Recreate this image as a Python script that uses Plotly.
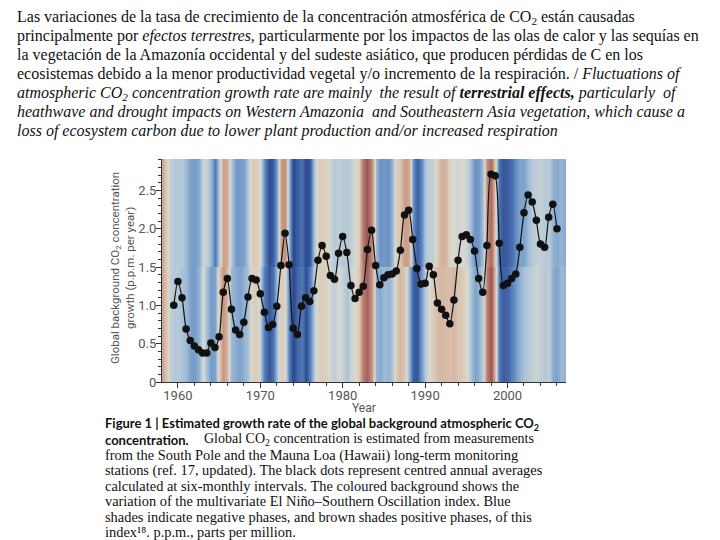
import plotly.graph_objects as go

# ---------------- data ----------------
co2_years = [1959.5 + 0.5 * i for i in range(94)]
co2_growth = [
    1.00, 1.31, 1.10, 0.69, 0.54, 0.47, 0.42, 0.38, 0.38, 0.51,
    0.45, 0.59, 1.17, 1.35, 0.95, 0.68, 0.62, 0.78, 1.11, 1.35,
    1.33, 1.15, 0.91, 0.71, 0.75, 0.99, 1.52, 1.94, 1.53, 0.70,
    0.62, 0.99, 1.10, 1.05, 1.19, 1.59, 1.78, 1.64, 1.39, 1.34,
    1.68,
    1.90, 1.69, 1.26, 1.09, 1.17, 1.25, 1.73, 1.98, 1.52, 1.27,
    1.36, 1.40, 1.41, 1.45, 1.72, 2.18, 2.24, 1.86, 1.48, 1.28,
    1.29, 1.51, 1.40, 1.03, 0.95, 0.87, 0.76, 1.07, 1.59, 1.90,
    1.92, 1.86, 1.71, 1.35, 1.17, 1.78, 2.71, 2.69, 1.81, 1.26,
    1.29, 1.35, 1.41,
    1.76, 2.21, 2.44, 2.35, 2.11, 1.80, 1.76, 2.15, 2.32, 2.00,
]

mei_years = [1957.5 + 0.5 * i for i in range(101)]
# multivariate ENSO index shading, lower part of the figure (0-1.5)
mei_lower = [
    1.2, 1.0, 0.4, -0.2, -0.3, -0.3, -0.4, -0.5, -0.8, -0.9,
    -0.6, 0.0, -0.5, -0.9, -0.8, 0.3, 1.1, 0.6, -0.5, -0.7,
    -0.8, -0.6, -0.4, 0.2, 0.3, -0.2, -1.2, -1.7, -1.4, -0.4,
    0.3, 0.1, -1.2, -1.9, -1.5, -1.3, -1.8, -1.2, -0.3, 0.2,
    0.3, 0.2, -0.1, -0.2, 0.0, -0.2, -0.4, -0.1, 0.0, 0.4,
    1.5, 2.0, 1.0, -0.6, -0.7, -0.5, -0.6, -0.4, 0.3, 0.6,
    0.3, -0.6, -1.6, -1.7, -1.0, -0.3, 0.0, 0.3, 0.5, 0.6,
    0.5, 0.5, 0.6, 0.4, 0.3, 0.1, -0.3, -0.8, -0.6, -0.2,
    1.5, 2.2, 0.5, -1.3, -1.6, -1.5, -1.2, -0.9, -0.6, -0.4,
    -0.3, -0.2, -0.1, -0.2, -0.3, -0.2, -0.7, -0.8, -0.5, -0.6,
    -0.7,
]
# upper part of the figure (1.5-top)
mei_upper = [
    1.2, 1.0, 0.3, -0.2, -0.3, -0.3, -0.3, -0.5, -0.8, -0.9,
    -0.7, -0.1, -0.2, -0.6, -1.3, -0.3, 0.9, 0.8, -0.3, -0.9,
    -0.9, -0.8, -0.3, 0.3, 0.3, 0.1, -1.0, -1.8, -1.6, -0.8,
    1.0, 1.2, -0.6, -1.9, -1.6, -1.4, -1.9, -1.6, -0.4, 0.2,
    0.3, 0.2, -0.1, -0.3, -0.2, -0.3, -0.3, -0.2, 0.0, 0.3,
    1.6, 2.2, 1.2, -0.5, -1.0, -0.9, -1.0, -0.6, 0.2, 0.4,
    1.0, 0.8, -1.0, -1.6, -1.2, -0.4, -0.2, -0.2, 0.3, 0.7,
    0.6, 0.1, 0.0, -0.1, 0.0, -0.1, -0.4, -1.0, -0.9, -0.4,
    1.3, 1.8, 0.3, -1.4, -1.7, -1.6, -1.4, -1.0, -0.8, -0.8,
    -0.5, -0.3, -0.2, -0.2, -0.3, -0.3, -0.6, -0.7, -0.6, -0.7,
    -0.8,
]

y_tick_vals = [0, 0.5, 1.0, 1.5, 2.0, 2.5]
y_tick_text = ["0", "0.5", "1.0", "1.5", "2.0", "2.5"]
x_tick_vals = [1960, 1970, 1980, 1990, 2000]
x_tick_text = ["1960", "1970", "1980", "1990", "2000"]

# ---------------- layout helpers ----------------
OFF = 8                      # page body margin around the plot div
W, H = 720 - OFF, 540 - OFF
L, R, T, B = 162 - OFF, 566 - OFF, 159 - OFF, 382 - OFF


def px(x):
    # page pixel -> paper x (annotation text starts ~2px right of its anchor)
    return (x - OFF - 2 - L) / (R - L)


def pxc(x):
    return (x - OFF - L) / (R - L)


def py(y):
    return (B - (y - OFF)) / (B - T)


enso_scale = [
    [0.00, "#223a7e"],
    [0.14, "#304d93"],
    [0.26, "#5781bd"],
    [0.36, "#88aad0"],
    [0.44, "#b6c9d8"],
    [0.50, "#d8d9d0"],
    [0.56, "#dbcbb9"],
    [0.66, "#d0a893"],
    [0.78, "#bb8176"],
    [1.00, "#8f4749"],
]

fig = go.Figure()
fig.add_trace(go.Heatmap(
    x=mei_years, y=[0, 0.75, 1.5], z=[mei_lower, mei_lower],
    colorscale=enso_scale, zmin=-2.5, zmax=2.5, zsmooth="best",
    showscale=False, hoverinfo="skip"))
fig.add_trace(go.Heatmap(
    x=mei_years, y=[1.5, 2.3, 3.1], z=[mei_upper, mei_upper],
    colorscale=enso_scale, zmin=-2.5, zmax=2.5, zsmooth="best",
    showscale=False, hoverinfo="skip"))
fig.add_trace(go.Scatter(
    x=co2_years, y=co2_growth, mode="lines+markers",
    line=dict(color="#111", width=1.2, shape="spline", smoothing=0.7),
    marker=dict(color="#111", size=7.5), hoverinfo="skip"))

sans = "Roboto, Liberation Sans, sans-serif"
tick_font = dict(family=sans, size=13, color="#555")
fig.update_xaxes(
    range=[1958.07, 2007.1], tickvals=x_tick_vals, ticktext=x_tick_text,
    ticks="outside", ticklen=5, tickcolor="#333", showline=True, linecolor="#333",
    linewidth=1, showgrid=False, zeroline=False, tickfont=tick_font,
    ticklabelstandoff=-4,
    minor=dict(dtick=2, tick0=1960, ticks="outside", ticklen=3, tickcolor="#333"))
fig.update_yaxes(
    range=[0, 2.91], tickvals=y_tick_vals, ticktext=y_tick_text,
    ticks="outside", ticklen=5, tickcolor="#333", showline=True, linecolor="#333",
    linewidth=1, showgrid=False, zeroline=False, tickfont=tick_font,
    ticklabelstandoff=-3,
    minor=dict(dtick=0.1, tick0=0, ticks="outside", ticklen=3, tickcolor="#333"))

ann = []
serif = "Liberation Serif, Times New Roman, serif"
sans_b = "Lato, Open Sans, sans-serif"

top_lines = [
    "Las variaciones de la tasa de crecimiento de la concentración atmosférica de CO<sub>2</sub> están causadas",
    "principalmente por <i>efectos terrestres</i>, particularmente por los impactos de las olas de calor y las sequías en",
    "la vegetación de la Amazonía occidental y del sudeste asiático, que producen pérdidas de C en los",
    "ecosistemas debido a la menor productividad vegetal y/o incremento de la respiración. / <i>Fluctuations of</i>",
    "<i>atmospheric CO<sub>2</sub> concentration growth rate are mainly  the result of <b>terrestrial effects,</b> particularly  of</i>",
    "<i>heathwave and drought impacts on Western Amazonia  and Southeastern Asia vegetation, which cause a</i>",
    "<i>loss of ecosystem carbon due to lower plant production and/or increased respiration</i>",
]
top_y = [17, 36, 55, 74, 93, 112, 131]
for t, yy in zip(top_lines, top_y):
    ann.append(dict(text=t, x=px(18), y=py(yy), xref="paper", yref="paper",
                    xanchor="left", yanchor="middle", showarrow=False, borderpad=0,
                    font=dict(family=serif, size=16, color="#111")))

cap_lines = [
    "from the South Pole and the Mauna Loa (Hawaii) long-term monitoring",
    "stations (ref. 17, updated). The black dots represent centred annual averages",
    "calculated at six-monthly intervals. The coloured background shows the",
    "variation of the multivariate El Niño–Southern Oscillation index. Blue",
    "shades indicate negative phases, and brown shades positive phases, of this",
    "index¹⁸. p.p.m., parts per million.",
]
cap_y = [455, 470, 486, 501, 517, 532]
ann.append(dict(text="<b>Figure 1 | Estimated growth rate of the global background atmospheric CO<sub>2</sub></b>",
                x=px(106), y=py(424), xref="paper", yref="paper", xanchor="left", yanchor="middle",
                showarrow=False, borderpad=0, font=dict(family=sans_b, size=13, color="#111")))
ann.append(dict(text="<b>concentration.</b>", x=px(106), y=py(440), xref="paper", yref="paper",
                xanchor="left", yanchor="middle", showarrow=False, borderpad=0,
                font=dict(family=sans_b, size=13, color="#111")))
ann.append(dict(text="Global CO<sub>2</sub> concentration is estimated from measurements",
                x=px(205), y=py(440), xref="paper", yref="paper", xanchor="left", yanchor="middle",
                showarrow=False, borderpad=0, font=dict(family=serif, size=14, color="#111")))
for t, yy in zip(cap_lines, cap_y):
    ann.append(dict(text=t, x=px(106), y=py(yy), xref="paper", yref="paper",
                    xanchor="left", yanchor="middle", showarrow=False, borderpad=0,
                    font=dict(family=serif, size=14.4, color="#111")))

ann.append(dict(text="Global background CO<sub>2</sub> concentration<br>growth (p.p.m. per year)",
                x=pxc(122), y=py(268), xref="paper", yref="paper", xanchor="center", yanchor="middle",
                textangle=-90, showarrow=False, borderpad=0,
                font=dict(family=sans, size=11.5, color="#555")))
ann.append(dict(text="Year", x=pxc(364), y=py(408), xref="paper", yref="paper",
                xanchor="center", yanchor="middle", showarrow=False, borderpad=0,
                font=dict(family=sans, size=12, color="#555")))

fig.update_layout(
    width=W, height=H, margin=dict(l=L, r=W - R, t=T, b=H - B),
    paper_bgcolor="white", plot_bgcolor="white", showlegend=False,
    annotations=ann)

fig.write_html("out.html")
